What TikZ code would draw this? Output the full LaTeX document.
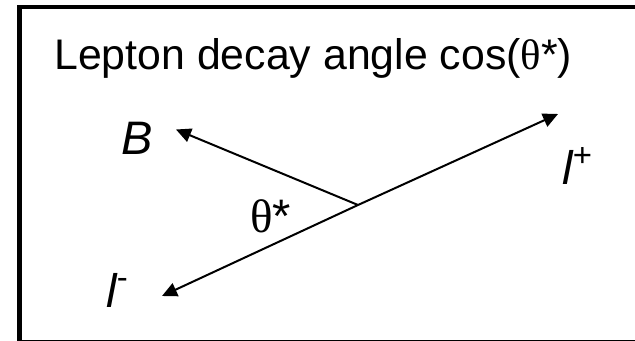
\documentclass[tikz,border=0pt]{standalone}
\usepackage{fontspec}
\setmainfont{Liberation Sans}
\newfontfamily\thetafont{Liberation Serif}
\usetikzlibrary{
    arrows.meta
}

\begin{document}
\begin{tikzpicture}[
    x=0.5pt,
    y=-0.5pt,
    frame/.style={
        draw=black,
        line width=2.4pt
    },
    heading/.style={
        anchor=base west,
        inner sep=0pt,
        font=\fontsize{21.4pt}{26pt}\selectfont
    },
    particle/.style={
        anchor=base west,
        inner sep=0pt,
        font=\fontsize{23.5pt}{28pt}\selectfont\itshape
    },
    anglelabel/.style={
        particle,
        font=\fontsize{23.5pt}{28pt}\selectfont
    },
    decayarrow/.style={
        -{Triangle[length=7.5pt,width=7pt]},
        line width=1pt
    }
]

\useasboundingbox (0,0) rectangle (635,341);

\begin{scope}
    \clip (0,0) rectangle (635,341);
    \draw[frame] (19.5,7) rectangle (660,342.5);
\end{scope}

\node[heading] (title) at (54,70) {
    Lepton decay angle cos({\thetafont θ}*)
};

\coordinate (vertex) at (358,205);
\coordinate (lplus) at (558,114);
\coordinate (lminus) at (162,296);
\coordinate (btip) at (176,129.5);

\node[particle] (B) at (121,154.5) {B};
\node[particle] (lep plus) at (562,185) {l\textsuperscript{\upshape +}};
\node[particle] (lep minus) at (106,307) {l\textsuperscript{\upshape -}};
\node[anglelabel] (theta) at (250,233) {{\thetafont θ}*};

\draw[decayarrow] (vertex) -- (btip);
\draw[decayarrow] (vertex) -- (lplus);
\draw[decayarrow] (vertex) -- (lminus);

\end{tikzpicture}
\end{document}
